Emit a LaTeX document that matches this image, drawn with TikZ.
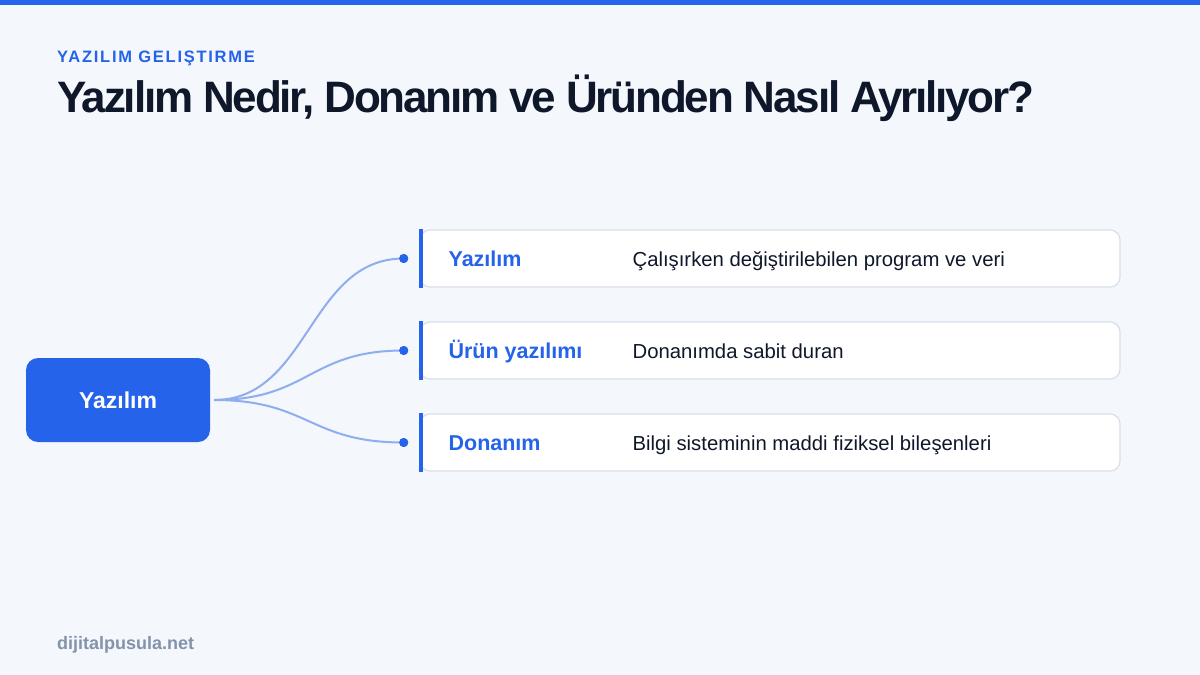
\documentclass[tikz,border=0pt]{standalone}
\usepackage{fontspec}
\setmainfont{Liberation Sans}
\usetikzlibrary{positioning}

\definecolor{brandblue}{HTML}{2563EB}
\definecolor{pagebg}{HTML}{F4F7FB}
\definecolor{inkdark}{HTML}{0F172A}
\definecolor{linkblue}{HTML}{8EAEF0}
\definecolor{edgegray}{HTML}{D9DFEA}
\definecolor{footgray}{HTML}{8393AB}

\tikzset{
  rootbox/.style={fill=brandblue, rounded corners=12pt, minimum width=184pt,
    minimum height=84pt},
  itembox/.style={draw=edgegray, line width=1.2pt, fill=white, rounded corners=10pt,
    minimum width=700pt, minimum height=57pt},
  itemlabel/.style={anchor=base west, inner sep=0pt, text=brandblue,
    font=\bfseries\fontsize{21.5}{25}\selectfont},
  itemtext/.style={anchor=base west, inner sep=0pt, text=inkdark,
    font=\fontsize{20.3}{24}\selectfont},
  dotmark/.style={circle, fill=brandblue, inner sep=0pt, minimum size=9pt},
  link/.style={draw=linkblue, line width=2pt},
}

\begin{document}
\begin{tikzpicture}[x=1pt,y=-1pt]
  \fill[pagebg] (0,0) rectangle (1200,675);
  \fill[brandblue] (0,0) rectangle (1200,5);

  \node[anchor=base west, inner sep=0pt, text=brandblue,
    font=\bfseries\fontsize{16.5}{20}\selectfont\addfontfeatures{LetterSpace=10.5}]
    (kicker) at (57,62) {YAZILIM GELIŞTIRME};
  \node[anchor=base west, inner sep=0pt, text=inkdark,
    font=\bfseries\fontsize{44}{52}\selectfont\addfontfeatures{LetterSpace=-5}]
    (title) at (57,112) {Yazılım Nedir, Donanım ve Üründen Nasıl Ayrılıyor?};

  \node[rootbox] (root) at (118,400) {};
  \node[anchor=base, inner sep=0pt, text=white, font=\bfseries\fontsize{23}{27}\selectfont]
    (rootlabel) at ([yshift=-8pt]root.center) {Yazılım};

  \node[itembox] (soft) at (770,258.5) {};
  \node[itembox] (firm) at (770,350.5) {};
  \node[itembox] (hard) at (770,442.5) {};

  \fill[brandblue] (soft.north west) rectangle ([xshift=4pt]soft.south west);
  \fill[brandblue] (firm.north west) rectangle ([xshift=4pt]firm.south west);
  \fill[brandblue] (hard.north west) rectangle ([xshift=4pt]hard.south west);

  \node[itemlabel] (softlabel) at ([xshift=29pt,yshift=-7.5pt]soft.west) {Yazılım};
  \node[itemlabel] (firmlabel) at ([xshift=29pt,yshift=-7.5pt]firm.west) {Ürün yazılımı};
  \node[itemlabel] (hardlabel) at ([xshift=29pt,yshift=-7.5pt]hard.west) {Donanım};

  \node[itemtext] (softtext) at ([xshift=213pt,yshift=-7.5pt]soft.west) {Çalışırken değiştirilebilen program ve veri};
  \node[itemtext] (firmtext) at ([xshift=213pt,yshift=-7.5pt]firm.west) {Donanımda sabit duran};
  \node[itemtext] (hardtext) at ([xshift=213pt,yshift=-7.5pt]hard.west) {Bilgi sisteminin maddi fiziksel bileşenleri};

  \node[dotmark, left=11pt of soft.west] (softdot) {};
  \node[dotmark, left=11pt of firm.west] (firmdot) {};
  \node[dotmark, left=11pt of hard.west] (harddot) {};

  % curved links from the root to each dot
  \draw[link] ([xshift=4pt]root.east) .. controls +(95,0) and +(-95,0) .. (softdot.center);
  \draw[link] ([xshift=4pt]root.east) .. controls +(95,0) and +(-95,0) .. (firmdot.center);
  \draw[link] ([xshift=4pt]root.east) .. controls +(95,0) and +(-95,0) .. (harddot.center);
  \fill[brandblue] (softdot) circle (4.5pt);
  \fill[brandblue] (firmdot) circle (4.5pt);
  \fill[brandblue] (harddot) circle (4.5pt);

  \node[anchor=base west, inner sep=0pt, text=footgray, font=\bfseries\fontsize{18}{21}\selectfont]
    (site) at (57,649) {dijitalpusula.net};
\end{tikzpicture}
\end{document}
